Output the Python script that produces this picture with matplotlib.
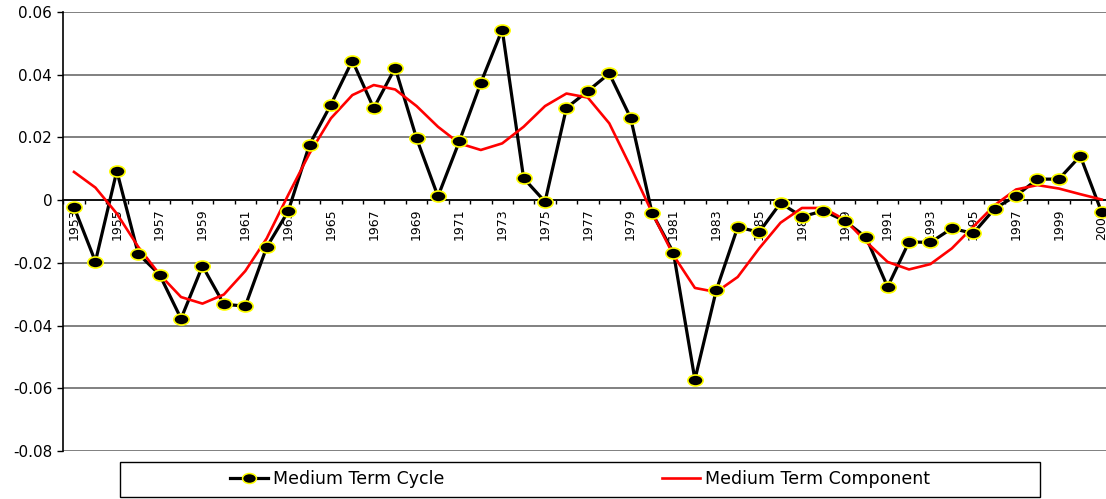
import matplotlib
matplotlib.use("Agg")
import matplotlib.pyplot as plt
from matplotlib.lines import Line2D
from matplotlib.patches import Rectangle
from matplotlib.path import Path
from matplotlib.transforms import Affine2D

years = list(range(1953, 2002))
cycle = [-0.0022, -0.0196, 0.0093, -0.0171, -0.0238, -0.0378, -0.0210, -0.0332, -0.0338, -0.0150,
         -0.0036, 0.0177, 0.0305, 0.0445, 0.0293, 0.0422, 0.0197, 0.0012, 0.0188, 0.0374,
         0.0544, 0.0070, -0.0005, 0.0294, 0.0348, 0.0404, 0.0262, -0.0041, -0.0168, -0.0572,
         -0.0287, -0.0086, -0.0102, -0.0009, -0.0053, -0.0034, -0.0066, -0.0119, -0.0277, -0.0133,
         -0.0135, -0.0090, -0.0106, -0.0027, 0.0014, 0.0067, 0.0067, 0.0141, -0.0039]
component = [0.0090, 0.0040, -0.0043, -0.0149, -0.0237, -0.0309, -0.0330, -0.0301, -0.0226, -0.0122,
             0.0016, 0.0149, 0.0261, 0.0335, 0.0367, 0.0353, 0.0300, 0.0234, 0.0181, 0.0160,
             0.0181, 0.0234, 0.0300, 0.0340, 0.0327, 0.0245, 0.0106, -0.0040, -0.0176, -0.0280,
             -0.0293, -0.0245, -0.0154, -0.0072, -0.0025, -0.0025, -0.0062, -0.0133, -0.0197, -0.0221,
             -0.0204, -0.0154, -0.0085, -0.0016, 0.0034, 0.0048, 0.0037, 0.0019, 0.0002]
y_ticks = [-0.08, -0.06, -0.04, -0.02, 0.0, 0.02, 0.04, 0.06]
y_tick_labels = ["-0.08", "-0.06", "-0.04", "-0.02", "0", "0.02", "0.04", "0.06"]
series_names = ["Medium Term Cycle", "Medium Term Component"]

plt.rcParams['font.family'] = ['DejaVu Sans']

W, H = 1106, 499
fig = plt.figure(figsize=(W / 100, H / 100), dpi=100)
left_px, right_px, top_px, bot_px = 63.3, 1112.4, 12, 451
ax = fig.add_axes([left_px / W, 1 - bot_px / H, (right_px - left_px) / W, (bot_px - top_px) / H])

ellipse = Path.unit_circle().transformed(Affine2D().scale(1.0, 0.72))

x = list(range(len(years)))
ax.plot(x, cycle, color='black', lw=2.3, zorder=3, solid_joinstyle='miter')
ax.plot(x, component, color='#ff0000', lw=1.9, zorder=4)
ax.plot(x, cycle, linestyle='none', marker=ellipse, markersize=11, markerfacecolor='black',
        markeredgecolor='#ffff00', markeredgewidth=1.2, zorder=5)

ax.set_xlim(-0.5, len(years) - 0.5)
ax.set_ylim(-0.08, 0.06)
ax.set_yticks(y_ticks)
ax.set_yticklabels(y_tick_labels, fontsize=11)
ax.tick_params(axis='y', direction='out', length=4, width=1, colors='black', pad=4)
ax.yaxis.grid(True, color='#808080', lw=1.4)
ax.set_axisbelow(True)

# category axis at zero
ax.spines['bottom'].set_position(('data', 0))
ax.spines['bottom'].set_linewidth(1.2)
ax.spines['top'].set_visible(False)
ax.spines['right'].set_visible(False)
ax.spines['left'].set_linewidth(1.2)
ax.spines['left'].set_zorder(2)
ax.spines['bottom'].set_zorder(2)
ax.set_xticks(x[::2])
ax.set_xticklabels([str(y) for y in years[::2]], rotation=90, fontsize=9, va='top', ha='center')
ax.set_xticks([i - 0.5 for i in range(len(years) + 1)], minor=True)
ax.tick_params(axis='x', which='major', length=0, pad=6)
ax.tick_params(axis='x', which='minor', direction='out', length=3, width=1, colors='black')

# legend box
box = Rectangle((120 / W, 1 - 497 / H), 920 / W, 35 / H, transform=fig.transFigure,
                facecolor='white', edgecolor='black', lw=1.0)
fig.patches.append(box)
h1 = Line2D([], [], color='black', lw=2.3, marker=ellipse, markersize=10, markerfacecolor='black',
            markeredgecolor='#ffff00', markeredgewidth=1.1)
h2 = Line2D([], [], color='#ff0000', lw=1.9)
fig.legend([h1, h2], series_names, loc='center', bbox_to_anchor=(580 / W, 1 - 479.5 / H),
           ncol=2, frameon=False, fontsize=12.5, columnspacing=12.5, handlelength=2.2,
           handletextpad=0.3)

fig.savefig("out.png", dpi=100)
